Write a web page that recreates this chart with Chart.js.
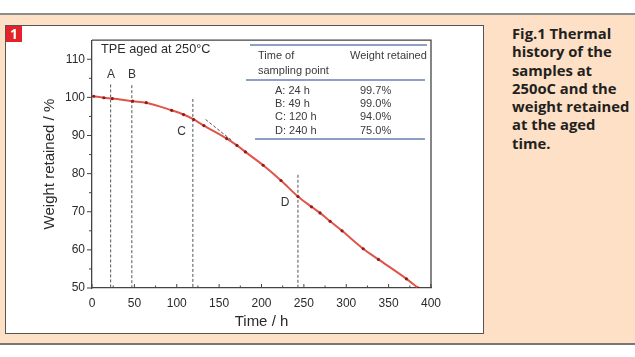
<!DOCTYPE html>
<html><head><meta charset="utf-8">
<script src="https://cdn.jsdelivr.net/npm/chart.js@4"></script>
<style>
html,body{margin:0;padding:0;background:#fff;width:635px;height:357px;overflow:hidden;font-family:"Liberation Sans",Arial,sans-serif;}
#band{position:absolute;left:0;top:13px;width:635px;height:328px;background:#fde0c6;border-top:2px solid #8c8c8c;border-bottom:2px solid #777;}
#panel{position:absolute;left:5px;top:25px;width:477px;height:307px;background:#fff;border:1px solid #555;}
#chartbox{position:absolute;left:0;top:0;width:477px;height:307px;}
#num{position:absolute;left:6px;top:26px;width:16px;height:16px;background:#e3222a;color:#fff;font:bold 14px/16px "Open Sans",sans-serif;text-align:center;}
#cap{position:absolute;left:512px;top:24px;font:bold 14.8px/18.3px "Open Sans",sans-serif;color:#231f20;white-space:nowrap;}
.t{position:absolute;color:#3a3a3a;font-size:11px;line-height:13px;white-space:nowrap;}
.hl{position:absolute;background:#8d9fc2;}
#ttl{position:absolute;left:101px;top:42px;font-size:12.7px;line-height:15px;color:#2a2a2a;white-space:nowrap;}
</style></head>
<body>
<div id="band"></div>
<div id="panel"><div id="chartbox"><canvas id="c" width="477" height="307"></canvas></div></div>
<div id="num">1</div>
<div id="ttl">TPE aged at 250°C</div>
<div class="hl" style="left:250px;top:44px;width:177px;height:2px;"></div>
<div class="t" style="left:258px;top:48.5px;">Time of</div>
<div class="t" style="left:258px;top:63.5px;">sampling point</div>
<div class="t" style="left:350px;top:48.5px;">Weight retained</div>
<div class="hl" style="left:246px;top:79px;width:179px;height:1.5px;"></div>
<div class="t" id="rowsL" style="left:275px;top:83.5px;line-height:13.4px;"></div>
<div class="t" id="rowsR" style="left:360px;top:83.5px;line-height:13.4px;"></div>
<div class="hl" style="left:255px;top:138px;width:170px;height:1.5px;"></div>
<div id="cap">Fig.1 Thermal<br>history of the<br>samples at<br>250oC and the<br>weight retained<br>at the aged<br>time.</div>
<script>
// ---- data ----
const times   = [2, 14, 24, 48, 64, 94, 108, 120, 132, 159, 171, 181, 202, 223, 243, 259, 269, 281, 295, 320, 338, 371, 385];
const weights = [100.3, 99.9, 99.7, 99.0, 98.6, 96.6, 95.5, 94.2, 92.6, 89.2, 87.4, 85.7, 82.2, 78.2, 74.0, 71.3, 69.7, 67.5, 65.0, 60.3, 57.5, 52.4, 50.0];
const xTicks = [0, 50, 100, 150, 200, 250, 300, 350, 400];
const xMinor = [25, 75, 125, 175, 225, 275, 325, 375];
const yTicks = [50, 60, 70, 80, 90, 100, 110];
const yMinor = [55, 65, 75, 85, 95, 105];
const markNames = ['A', 'B', 'C', 'D'];
const markTimes = [22, 47, 119, 243];
const markTops  = [103.4, 103.2, 99.6, 79.7];
const labelX = [22.4, 47.2, 105.8, 227.7];
const labelY = [106.0, 106.0, 90.9, 72.3];
const tangentX = [134, 165];
const tangentY = [94.2, 88.7];
const tableTimes = ['A: 24 h', 'B: 49 h', 'C: 120 h', 'D: 240 h'];
const tableWeights = ['99.7%', '99.0%', '94.0%', '75.0%'];

document.getElementById('rowsL').innerHTML = tableTimes.join('<br>');
document.getElementById('rowsR').innerHTML = tableWeights.join('<br>');

const datasets = [{
  data: times.map((t, i) => ({x: t, y: weights[i]})),
  borderColor: '#e0544a', borderWidth: 2,
  pointRadius: 1.6, pointBackgroundColor: '#8e1c18', pointBorderWidth: 0,
  cubicInterpolationMode: 'monotone', order: 0
}];
markTimes.forEach((t, i) => datasets.push({
  data: [{x: t, y: markTops[i]}, {x: t, y: 50}],
  borderColor: '#555', borderWidth: 1, borderDash: [3, 2], pointRadius: 0, order: 2
}));
datasets.push({
  data: tangentX.map((t, i) => ({x: t, y: tangentY[i]})),
  borderColor: '#555', borderWidth: 1, borderDash: [3, 2], pointRadius: 0, order: 1
});

const decor = {
  id: 'decor',
  afterDatasetsDraw(chart) {
    const {ctx, chartArea: a, scales: {x, y}} = chart;
    ctx.save();
    ctx.strokeStyle = '#444'; ctx.lineWidth = 1.3;
    ctx.beginPath();
    ctx.moveTo(a.left, a.top); ctx.lineTo(a.right, a.top); ctx.lineTo(a.right, a.bottom);
    ctx.stroke();
    ctx.lineWidth = 1;
    ctx.beginPath();
    xTicks.forEach(v => { const p = x.getPixelForValue(v); ctx.moveTo(p, a.bottom); ctx.lineTo(p, a.bottom - 4); });
    xMinor.forEach(v => { const p = x.getPixelForValue(v); ctx.moveTo(p, a.bottom); ctx.lineTo(p, a.bottom - 2.5); });
    yTicks.forEach(v => { const p = y.getPixelForValue(v); ctx.moveTo(a.left, p); ctx.lineTo(a.left - 5, p); });
    yMinor.forEach(v => { const p = y.getPixelForValue(v); ctx.moveTo(a.left, p); ctx.lineTo(a.left - 3, p); });
    ctx.stroke();
    ctx.fillStyle = '#333';
    ctx.font = '12px "Liberation Sans"';
    ctx.textAlign = 'center'; ctx.textBaseline = 'middle';
    markNames.forEach((n, i) => ctx.fillText(n, x.getPixelForValue(labelX[i]), y.getPixelForValue(labelY[i])));
    ctx.restore();
  }
};

new Chart(document.getElementById('c'), {
  type: 'line',
  data: {datasets},
  options: {
    responsive: false, animation: false, devicePixelRatio: 1,
    layout: {padding: {left: 0, top: 11, right: 52, bottom: 0}},
    plugins: {legend: {display: false}, tooltip: {enabled: false}},
    scales: {
      x: {
        type: 'linear', min: 0, max: 400,
        afterBuildTicks: s => { s.ticks = xTicks.map(v => ({value: v})); },
        afterFit: s => { s.height = 45; },
        grid: {display: false, drawTicks: false},
        border: {display: true, color: '#444', width: 1.3},
        ticks: {font: {family: 'Liberation Sans', size: 12}, color: '#2a2a2a', padding: 8, maxRotation: 0, autoSkip: false},
        title: {display: true, text: 'Time / h', font: {family: 'Liberation Sans', size: 15}, color: '#2a2a2a', padding: {top: 0, bottom: 2}}
      },
      y: {
        type: 'linear', min: 50, max: 115,
        afterBuildTicks: s => { s.ticks = yTicks.map(v => ({value: v})); },
        afterFit: s => { s.width = 86; },
        grid: {display: false, drawTicks: false},
        border: {display: true, color: '#444', width: 1.3},
        ticks: {font: {family: 'Liberation Sans', size: 12}, color: '#2a2a2a', padding: 7, autoSkip: false},
        title: {display: true, text: 'Weight retained / %', font: {family: 'Liberation Sans', size: 15}, color: '#2a2a2a', padding: {top: 35, bottom: 0}}
      }
    }
  },
  plugins: [decor]
});
</script>
</body></html>
